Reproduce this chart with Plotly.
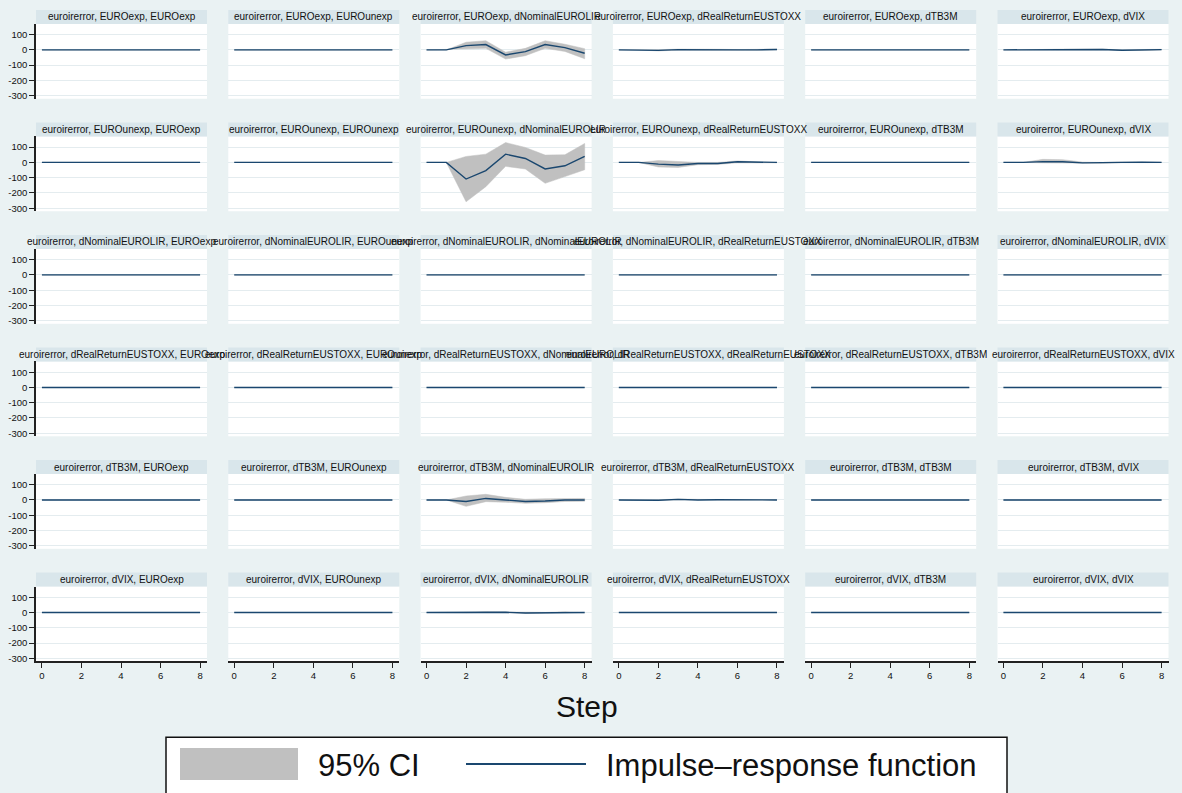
import plotly.graph_objects as go

W, H = 1182, 793

steps = [0, 1, 2, 3, 4, 5, 6, 7, 8]
variables = ["EUROexp", "EUROunexp", "dNominalEUROLIR",
             "dRealReturnEUSTOXX", "dTB3M", "dVIX"]
y_tickvals = [100, 0, -100, -200, -300]
y_ticktext = ["100", "0", "-100", "-200", "-300"]
x_tickvals = [0, 2, 4, 6, 8]

zero = [0, 0, 0, 0, 0, 0, 0, 0, 0]

# impulse EUROexp
irf_exp_nom = [0, 0, 28, 35, -33, -11, 35, 15, -22]
hi_exp_nom = [0, 0, 50, 60, -15, 10, 60, 37, 8]
lo_exp_nom = [0, 0, 7, 10, -60, -38, 10, -10, -58]
irf_exp_stx = [0, 0, -3, 2, 3, 1, 0, 0, 3]
hi_exp_stx = [0, 0, 1, 5, 6, 4, 2, 2, 5]
lo_exp_stx = [0, 0, -7, -1, 0, -2, -2, -2, 1]
irf_exp_vix = [0, 0, 1, 3, 3, 3, -2, -2, 2]
hi_exp_vix = [0, 0, 3, 5, 5, 5, 0, 0, 4]
lo_exp_vix = [0, 0, -1, 1, 1, 1, -4, -4, 0]

# impulse EUROunexp
irf_unx_nom = [0, 0, -109, -54, 54, 26, -43, -22, 39]
hi_unx_nom = [0, 0, 39, 54, 130, 98, 48, 50, 124]
lo_unx_nom = [0, 0, -258, -159, -26, -43, -137, -93, -48]
irf_unx_stx = [0, 0, -11, -17, -7, -7, 4, 0, 0]
hi_unx_stx = [0, 0, 12, 6, 0, 0, 10, 3, 2]
lo_unx_stx = [0, 0, -30, -33, -15, -13, -3, -3, -2]
irf_unx_vix = [0, 0, 5, 4, -3, -3, 0, 2, 0]
hi_unx_vix = [0, 0, 20, 18, 2, 0, 3, 4, 1]
lo_unx_vix = [0, 0, -3, -4, -6, -6, -2, 0, -1]

# impulse dNominalEUROLIR / dRealReturnEUSTOXX
irf_nom_nom = [0, 0, -2, 0, -1, 1, -1, 0, 0]
irf_stx_nom = [0, 0, 1, -1, 0, 1, 0, 0, 0]

# impulse dTB3M
irf_tb_nom = [0, 0, -10, 10, 0, -10, -7, 0, 0]
hi_tb_nom = [0, 0, 26, 37, 17, 4, 8, 10, 10]
lo_tb_nom = [0, 0, -42, -11, -15, -22, -18, -10, -8]
irf_tb_stx = [0, 0, -2, 4, 0, 1, 0, 0, 0]
hi_tb_stx = [0, 0, 1, 6, 2, 2, 1, 1, 1]
lo_tb_stx = [0, 0, -4, 1, -2, -1, -1, -1, -1]

# impulse dVIX
irf_vix_nom = [0, 0, 0, 3, 1, -3, -1, 3, 0]
hi_vix_nom = [0, 0, 2, 5, 3, -1, 1, 5, 2]
lo_vix_nom = [0, 0, -2, 1, -1, -5, -3, 1, -2]

panels = {
    ("EUROexp", "dNominalEUROLIR"): (irf_exp_nom, lo_exp_nom, hi_exp_nom),
    ("EUROexp", "dRealReturnEUSTOXX"): (irf_exp_stx, lo_exp_stx, hi_exp_stx),
    ("EUROexp", "dVIX"): (irf_exp_vix, lo_exp_vix, hi_exp_vix),
    ("EUROunexp", "dNominalEUROLIR"): (irf_unx_nom, lo_unx_nom, hi_unx_nom),
    ("EUROunexp", "dRealReturnEUSTOXX"): (irf_unx_stx, lo_unx_stx, hi_unx_stx),
    ("EUROunexp", "dVIX"): (irf_unx_vix, lo_unx_vix, hi_unx_vix),
    ("dNominalEUROLIR", "dNominalEUROLIR"): (irf_nom_nom, irf_nom_nom, irf_nom_nom),
    ("dRealReturnEUSTOXX", "dNominalEUROLIR"): (irf_stx_nom, irf_stx_nom, irf_stx_nom),
    ("dTB3M", "dNominalEUROLIR"): (irf_tb_nom, lo_tb_nom, hi_tb_nom),
    ("dTB3M", "dRealReturnEUSTOXX"): (irf_tb_stx, lo_tb_stx, hi_tb_stx),
    ("dVIX", "dNominalEUROLIR"): (irf_vix_nom, lo_vix_nom, hi_vix_nom),
}

BG = "#EAF2F3"
BAR = "#D9E6EB"
GRID = "#E4ECEF"
NAVY = "#1A476F"
CI = "#C0C0C0"
FONT = "Liberation Sans, Arial, sans-serif"


def px(x):
    return x / W


def py(y):
    return 1 - y / H


fig = go.Figure()
layout = {}
shapes = []
annotations = []

col_left0, col_step, col_w = 36.0, 192.3, 171.0
row_top0, row_step, row_h = 24.0, 112.8, 75.0

n = 0
for r, imp in enumerate(variables):
    for c, resp in enumerate(variables):
        n += 1
        xa = "x" if n == 1 else f"x{n}"
        ya = "y" if n == 1 else f"y{n}"
        xl = col_left0 + c * col_step
        yt = row_top0 + r * row_step
        irf, lo, hi = panels.get((imp, resp), (zero, zero, zero))
        fig.add_trace(go.Scatter(
            x=steps + steps[::-1], y=hi + lo[::-1], fill="toself",
            fillcolor=CI, line=dict(color=CI, width=0.5), mode="lines",
            hoverinfo="skip", showlegend=False, xaxis=xa, yaxis=ya))
        fig.add_trace(go.Scatter(
            x=steps, y=irf, mode="lines", line=dict(color=NAVY, width=1.4),
            showlegend=False, xaxis=xa, yaxis=ya))
        bottom = (r == len(variables) - 1)
        left = (c == 0)
        layout["xaxis" if n == 1 else f"xaxis{n}"] = dict(
            domain=[px(xl), px(xl + col_w)], anchor=ya,
            range=[-0.3, 8.35], showgrid=False, zeroline=False,
            showline=bottom, linecolor="#222", linewidth=1.5,
            ticks="outside" if bottom else "", ticklen=5, tickcolor="#222",
            tickvals=x_tickvals, showticklabels=bottom,
            tickfont=dict(size=9.5, color="#111", family=FONT), fixedrange=True)
        layout["yaxis" if n == 1 else f"yaxis{n}"] = dict(
            domain=[py(yt + row_h), py(yt)], anchor=xa,
            range=[-320, 170], showgrid=True, gridcolor=GRID, gridwidth=1,
            zeroline=False, showline=left, linecolor="#222", linewidth=1.5,
            ticks="outside" if left else "", ticklen=5, tickcolor="#222",
            tickvals=y_tickvals, ticktext=y_ticktext, showticklabels=left,
            tickfont=dict(size=9.5, color="#111", family=FONT), fixedrange=True)
        shapes.append(dict(type="rect", xref="paper", yref="paper",
                           x0=px(xl), x1=px(xl + col_w),
                           y0=py(yt - 14), y1=py(yt),
                           fillcolor=BAR, line=dict(width=0), layer="below"))
        annotations.append(dict(xref="paper", yref="paper",
                                x=px(xl + col_w / 2), y=py(yt - 7),
                                text=f"euroirerror, {imp}, {resp}",
                                showarrow=False, xanchor="center",
                                yanchor="middle",
                                font=dict(size=10, color="#111", family=FONT)))

# axis title
annotations.append(dict(xref="paper", yref="paper", x=px(587), y=py(708),
                        text="Step", showarrow=False, xanchor="center",
                        yanchor="middle",
                        font=dict(size=30, color="#111", family=FONT)))

# legend (drawn)
shapes.append(dict(type="rect", xref="paper", yref="paper",
                   x0=px(166), x1=px(1007), y0=py(805), y1=py(739),
                   fillcolor="white", line=dict(color="#111", width=1.5)))
shapes.append(dict(type="rect", xref="paper", yref="paper",
                   x0=px(180), x1=px(298), y0=py(782), y1=py(750),
                   fillcolor=CI, line=dict(width=0)))
shapes.append(dict(type="line", xref="paper", yref="paper",
                   x0=px(466), x1=px(586), y0=py(766), y1=py(766),
                   line=dict(color=NAVY, width=2)))
annotations.append(dict(xref="paper", yref="paper", x=px(316), y=py(767),
                        text="95% CI", showarrow=False, xanchor="left",
                        yanchor="middle",
                        font=dict(size=31, color="#111", family=FONT)))
annotations.append(dict(xref="paper", yref="paper", x=px(604), y=py(767),
                        text="Impulse\u2013response function", showarrow=False,
                        xanchor="left", yanchor="middle",
                        font=dict(size=31, color="#111", family=FONT)))

fig.update_layout(**layout)
fig.update_layout(
    width=W, height=H, margin=dict(l=0, r=0, t=0, b=0),
    paper_bgcolor=BG, plot_bgcolor="white", showlegend=False,
    shapes=shapes, annotations=annotations,
    font=dict(family=FONT, color="#111"))

fig.write_html(
    "out.html", config={"displayModeBar": False},
    post_script=("document.body.style.margin='0';"
                 "document.body.style.overflow='hidden';"
                 "document.body.style.background='" + BG + "';"))
